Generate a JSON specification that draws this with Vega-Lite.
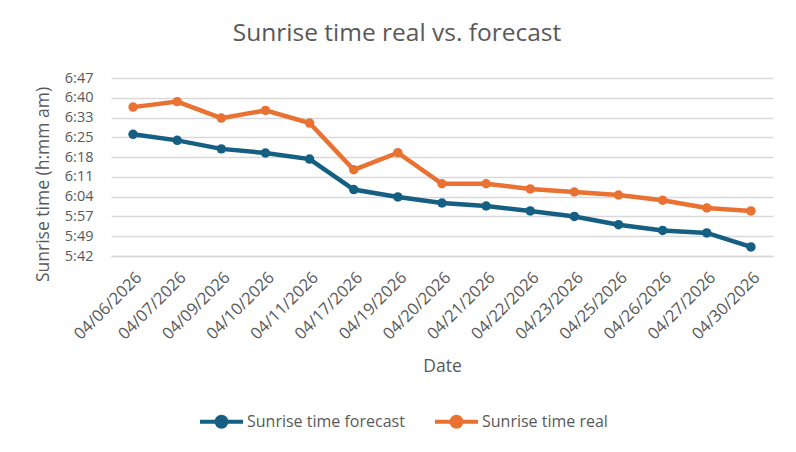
{
  "$schema": "https://vega.github.io/schema/vega-lite/v6.json",
  "width": 662,
  "height": 178,
  "autosize": "none",
  "padding": {"left": 111, "top": 78, "right": 23, "bottom": 196},
  "background": "white",
  "title": {
    "text": "Sunrise time real vs. forecast",
    "fontSize": 24.5,
    "fontWeight": "normal",
    "color": "#595959",
    "font": "Open Sans",
    "anchor": "middle",
    "dx": -45,
    "offset": 24
  },
  "data": {
    "values": [
      {"date": "04/06/2026", "series": "Sunrise time forecast", "minutes": 386.3},
      {"date": "04/07/2026", "series": "Sunrise time forecast", "minutes": 384.1},
      {"date": "04/09/2026", "series": "Sunrise time forecast", "minutes": 381.0},
      {"date": "04/10/2026", "series": "Sunrise time forecast", "minutes": 379.5},
      {"date": "04/11/2026", "series": "Sunrise time forecast", "minutes": 377.3},
      {"date": "04/17/2026", "series": "Sunrise time forecast", "minutes": 366.2},
      {"date": "04/19/2026", "series": "Sunrise time forecast", "minutes": 363.5},
      {"date": "04/20/2026", "series": "Sunrise time forecast", "minutes": 361.3},
      {"date": "04/21/2026", "series": "Sunrise time forecast", "minutes": 360.2},
      {"date": "04/22/2026", "series": "Sunrise time forecast", "minutes": 358.4},
      {"date": "04/23/2026", "series": "Sunrise time forecast", "minutes": 356.4},
      {"date": "04/25/2026", "series": "Sunrise time forecast", "minutes": 353.4},
      {"date": "04/26/2026", "series": "Sunrise time forecast", "minutes": 351.3},
      {"date": "04/27/2026", "series": "Sunrise time forecast", "minutes": 350.4},
      {"date": "04/30/2026", "series": "Sunrise time forecast", "minutes": 345.3},
      {"date": "04/06/2026", "series": "Sunrise time real", "minutes": 396.2},
      {"date": "04/07/2026", "series": "Sunrise time real", "minutes": 398.2},
      {"date": "04/09/2026", "series": "Sunrise time real", "minutes": 392.2},
      {"date": "04/10/2026", "series": "Sunrise time real", "minutes": 395.0},
      {"date": "04/11/2026", "series": "Sunrise time real", "minutes": 390.4},
      {"date": "04/17/2026", "series": "Sunrise time real", "minutes": 373.4},
      {"date": "04/19/2026", "series": "Sunrise time real", "minutes": 379.6},
      {"date": "04/20/2026", "series": "Sunrise time real", "minutes": 368.3},
      {"date": "04/21/2026", "series": "Sunrise time real", "minutes": 368.3},
      {"date": "04/22/2026", "series": "Sunrise time real", "minutes": 366.4},
      {"date": "04/23/2026", "series": "Sunrise time real", "minutes": 365.3},
      {"date": "04/25/2026", "series": "Sunrise time real", "minutes": 364.2},
      {"date": "04/26/2026", "series": "Sunrise time real", "minutes": 362.3},
      {"date": "04/27/2026", "series": "Sunrise time real", "minutes": 359.5},
      {"date": "04/30/2026", "series": "Sunrise time real", "minutes": 358.4}
    ]
  },
  "encoding": {
    "x": {
      "field": "date",
      "type": "ordinal",
      "scale": {"type": "point", "padding": 0.5},
      "axis": {
        "title": "Date",
        "labelAngle": -45,
        "labelFontSize": 16.5,
        "labelPadding": 13,
        "ticks": false,
        "domainColor": "#d9d9d9",
        "domainWidth": 1.5,
        "titleFontSize": 17.5,
        "titlePadding": 15
      }
    },
    "y": {
      "field": "minutes",
      "type": "quantitative",
      "scale": {"domain": [342, 406.8], "nice": false, "zero": false},
      "axis": {
        "title": "Sunrise time (h:mm am)",
        "values": [342, 349.2, 356.4, 363.6, 370.8, 378, 385.2, 392.4, 399.6, 406.8],
        "labelExpr": "['5:42','5:49','5:57','6:04','6:11','6:18','6:25','6:33','6:40','6:47'][round((datum.value - 342) / 7.2)]",
        "labelFontSize": 14.5,
        "labelPadding": 18,
        "ticks": false,
        "domain": false,
        "gridColor": "#d9d9d9",
        "gridWidth": 1.5,
        "titleFontSize": 17.5,
        "titlePadding": 12,
        "titleY": 106
      }
    },
    "color": {
      "field": "series",
      "type": "nominal",
      "scale": {
        "domain": ["Sunrise time forecast", "Sunrise time real"],
        "range": ["#156082", "#E97132"]
      },
      "legend": {
        "title": null,
        "orient": "none",
        "direction": "horizontal",
        "legendX": 87,
        "legendY": 320,
        "labelFontSize": 16,
        "labelLimit": 400,
        "symbolType": "M-1,0H1M-0.23,0A0.23,0.23 0 1 1 0.23,0A0.23,0.23 0 1 1 -0.23,0Z",
        "symbolSize": 1849,
        "symbolStrokeWidth": 4,
        "columnPadding": 22,
        "labelOffset": 2
      }
    }
  },
  "layer": [
    {"mark": {"type": "line", "strokeWidth": 4.5}},
    {"mark": {"type": "point", "shape": "circle", "filled": true, "size": 90, "opacity": 1}}
  ],
  "config": {
    "font": "Open Sans",
    "view": {"stroke": null},
    "axis": {"labelColor": "#595959", "titleColor": "#595959", "titleFontWeight": "normal"},
    "legend": {"labelColor": "#595959"}
  }
}
